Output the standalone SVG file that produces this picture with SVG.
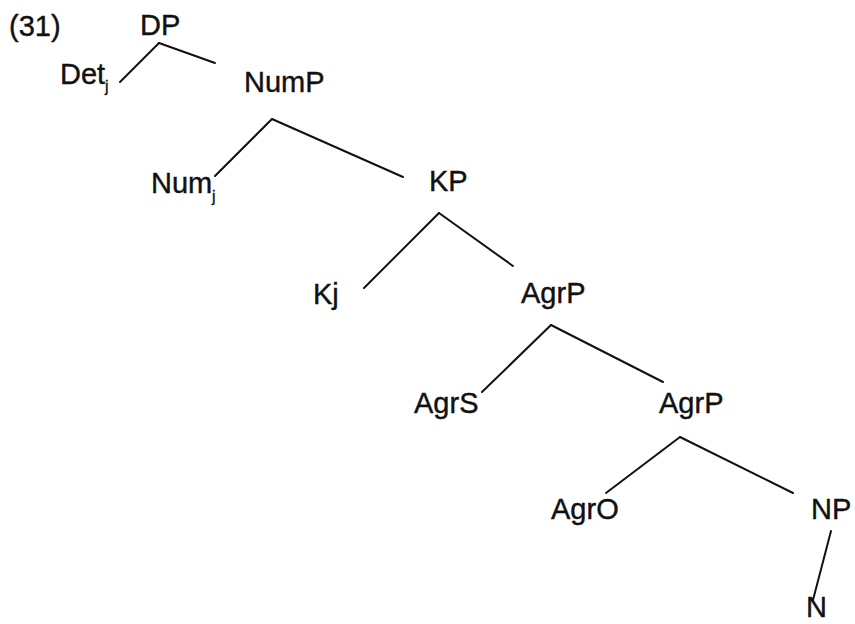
<svg xmlns="http://www.w3.org/2000/svg" width="855" height="624" viewBox="0 0 855 624">
<style>
text{font-family:"Liberation Sans",Arial,sans-serif;font-size:29px;fill:#111;stroke:#111;stroke-width:0.4}
.sub{font-size:16px;stroke-width:0.3}
line{stroke:#111;stroke-width:2;stroke-linecap:round}
</style>
<rect width="855" height="624" fill="#fff"/>
<text x="9" y="36" font-size="28">(31)</text>
<g id="DP"><text x="140" y="35">DP</text></g>
<g id="Det"><text x="60" y="84">Det</text><text class="sub" x="105" y="92">j</text></g>
<g id="NumP"><text x="244" y="92">NumP</text></g>
<g id="Num"><text x="151" y="193">Num</text><text class="sub" x="212" y="202">j</text></g>
<g id="KP"><text x="429" y="191">KP</text></g>
<g id="Kj"><text x="313" y="304">Kj</text></g>
<g id="AgrP1"><text x="521" y="303">AgrP</text></g>
<g id="AgrS"><text x="414" y="413">AgrS</text></g>
<g id="AgrP2"><text x="659" y="413">AgrP</text></g>
<g id="AgrO"><text x="551" y="519">AgrO</text></g>
<g id="NP"><text x="811" y="519">NP</text></g>
<g id="N"><text x="806" y="617">N</text></g>
<g id="connectors">
<line x1="159" y1="43" x2="120" y2="82"/>
<line x1="159" y1="43" x2="215" y2="63"/>
<line x1="272" y1="119" x2="215" y2="176"/>
<line x1="272" y1="119" x2="403" y2="177"/>
<line x1="439" y1="213" x2="364" y2="288"/>
<line x1="439" y1="213" x2="513" y2="266"/>
<line x1="551" y1="325" x2="482" y2="392"/>
<line x1="551" y1="325" x2="663" y2="382"/>
<line x1="680" y1="437" x2="606" y2="493"/>
<line x1="680" y1="437" x2="793" y2="493"/>
<line x1="831" y1="531" x2="813" y2="600"/>
</g>
</svg>
